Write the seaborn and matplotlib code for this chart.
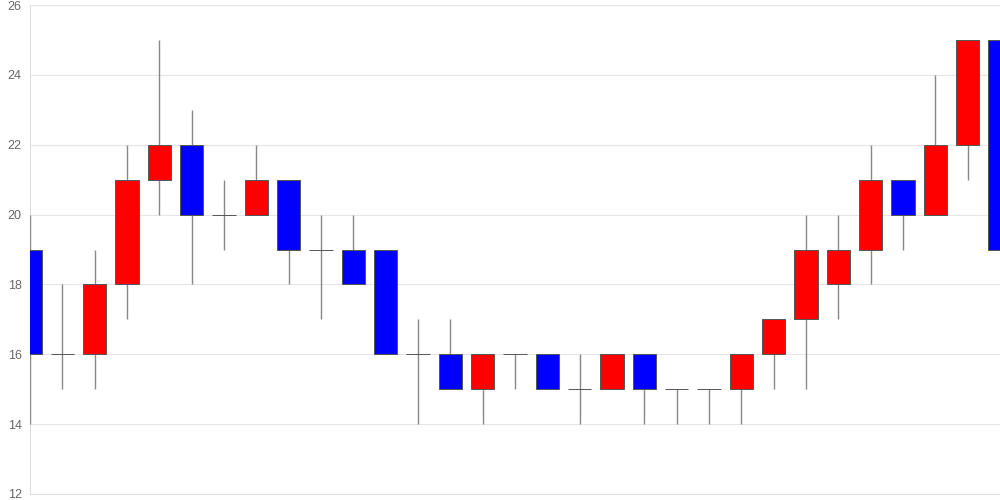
import pandas as pd
import matplotlib
matplotlib.use("Agg")
import matplotlib.pyplot as plt
import seaborn as sns

# daily prices (open / high / low / close)
opens = [19, 16, 16, 18, 21, 22, 20, 20, 21, 19, 19, 19, 16, 16, 15, 16,
         16, 15, 15, 16, 15, 15, 15, 16, 17, 18, 19, 21, 20, 22, 25]
highs = [20, 18, 19, 22, 25, 23, 21, 22, 21, 20, 20, 19, 17, 17, 16, 16,
         16, 16, 16, 16, 15, 15, 16, 17, 20, 20, 22, 21, 24, 25, 25]
lows = [14, 15, 15, 17, 20, 18, 19, 20, 18, 17, 18, 16, 14, 15, 14, 15,
        15, 14, 15, 14, 14, 14, 14, 15, 15, 17, 18, 19, 20, 21, 19]
closes = [16, 16, 18, 21, 22, 20, 20, 21, 19, 19, 18, 16, 16, 15, 16, 16,
          15, 15, 16, 15, 15, 15, 16, 17, 19, 19, 21, 20, 22, 25, 19]
y_ticks = [12, 14, 16, 18, 20, 22, 24, 26]

df = pd.DataFrame({"open": opens, "high": highs, "low": lows, "close": closes})
df["idx"] = range(len(df))
df["bottom"] = df[["open", "close"]].min(axis=1)
df["height"] = (df["close"] - df["open"]).abs()
df["color"] = ["#ff0000" if c > o else ("#0000ff" if c < o else "#555555")
               for o, c in zip(df["open"], df["close"])]

sns.set_style("whitegrid", {"grid.color": "#e6e6e6", "axes.edgecolor": "#e0e0e0"})
plt.rcParams["font.family"] = ["Liberation Sans", "DejaVu Sans"]

fig = plt.figure(figsize=(10, 5), dpi=100)
ax = fig.add_axes([0.03, 0.012, 0.97, 0.978])

# wicks
ax.vlines(df["idx"], df["low"], df["high"], color="#888888", linewidth=1, zorder=4)

# bodies
ax.bar(df["idx"], df["height"], bottom=df["bottom"], width=0.72,
       color=df["color"], edgecolor="#555555", linewidth=0.7, zorder=5)

ax.set_xlim(0, len(df) - 1)
ax.set_ylim(12, 26)
ax.set_yticks(y_ticks)
ax.set_xticks([])
ax.grid(axis="x", visible=False)
ax.tick_params(axis="y", colors="#666666", labelsize=9, length=0, pad=6)
for side in ["top", "right"]:
    ax.spines[side].set_visible(False)
ax.spines["left"].set_color("#e0e0e0")
ax.spines["bottom"].set_color("#e0e0e0")

fig.savefig("out.png", dpi=100)
